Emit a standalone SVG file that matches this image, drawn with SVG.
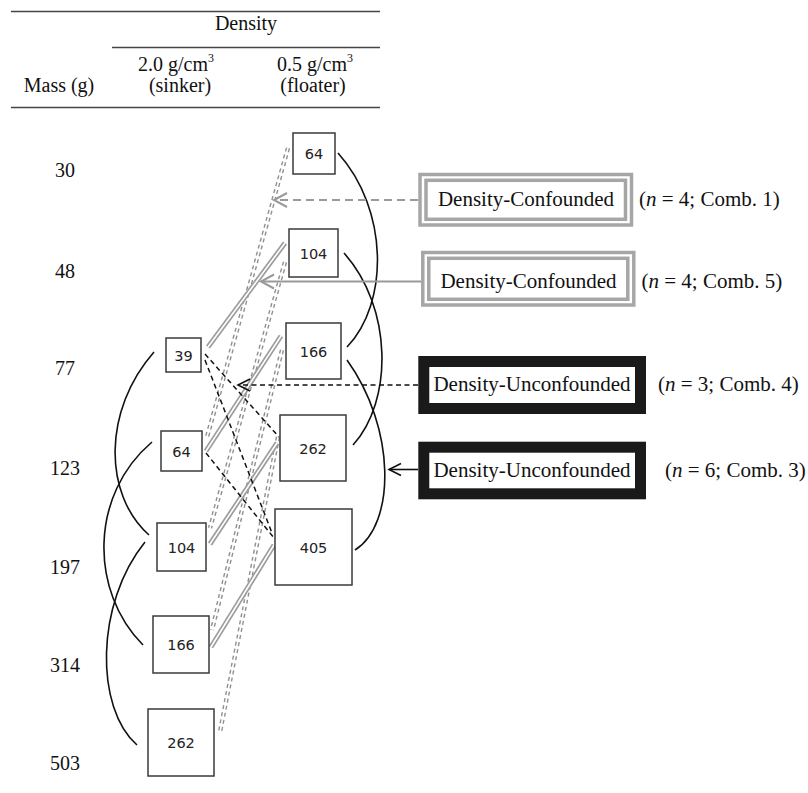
<svg xmlns="http://www.w3.org/2000/svg" width="808" height="793" viewBox="0 0 808 793">
<defs>
<style>
.box{fill:#fff;stroke:#3a3a3a;stroke-width:1.5}
.num{font-family:"DejaVu Sans",sans-serif;font-size:14.5px;text-anchor:middle;fill:#222}
.lbl{font-family:"Liberation Serif","Times New Roman",serif;font-size:20px;fill:#111}
.mid{text-anchor:middle}
.big{font-size:21px}
.rule{stroke:#444;stroke-width:1.3}
.curve{fill:none;stroke:#111;stroke-width:1.6}
.ddo{fill:none;stroke:#8f8f8f;stroke-width:4.4;stroke-dasharray:4 3.2}
.ddi{fill:none;stroke:#fff;stroke-width:1.6}
.dso{fill:none;stroke:#9c9c9c;stroke-width:5}
.dsi{fill:none;stroke:#fff;stroke-width:1.6}
.bd{fill:none;stroke:#111;stroke-width:1.5;stroke-dasharray:5 3.5}
.gdash{fill:none;stroke:#9a9a9a;stroke-width:2;stroke-dasharray:8 5}
.gsol{fill:none;stroke:#9a9a9a;stroke-width:2}
.kdash{fill:none;stroke:#111;stroke-width:1.6;stroke-dasharray:5 3.5}
.ksol{fill:none;stroke:#111;stroke-width:1.6}
.cf{fill:none;stroke:#a6a6a6;stroke-width:3.5}
.uc{fill:#fff;stroke:#1a1a1a;stroke-width:11}
</style>
<marker id="ag" markerUnits="userSpaceOnUse" markerWidth="20" markerHeight="20" refX="0" refY="0" viewBox="-14 -10 16 20" orient="auto">
<path d="M-13,-7 L0,0 L-13,7" fill="none" stroke="#9a9a9a" stroke-width="2"/>
</marker>
<marker id="ak" markerUnits="userSpaceOnUse" markerWidth="20" markerHeight="20" refX="0" refY="0" viewBox="-14 -10 16 20" orient="auto">
<path d="M-12,-6 L0,0 L-12,6" fill="none" stroke="#111" stroke-width="1.6"/>
</marker>
</defs>
<rect width="808" height="793" fill="#fff"/>

<g id="header">
<line class="rule" x1="11" y1="11.5" x2="380" y2="11.5"/>
<line class="rule" x1="112" y1="47.5" x2="380" y2="47.5"/>
<line class="rule" x1="11" y1="107.5" x2="380" y2="107.5"/>
<text class="lbl mid" x="246" y="30">Density</text>
<text class="lbl mid" x="176" y="71">2.0 g/cm<tspan font-size="12" dy="-9">3</tspan></text>
<text class="lbl mid" x="180" y="92">(sinker)</text>
<text class="lbl mid" x="315" y="71">0.5 g/cm<tspan font-size="12" dy="-9">3</tspan></text>
<text class="lbl mid" x="313" y="92">(floater)</text>
<text class="lbl mid" x="59" y="92">Mass (g)</text>
</g>

<g id="mass-labels">
<text class="lbl mid" x="65" y="177">30</text>
<text class="lbl mid" x="65" y="278">48</text>
<text class="lbl mid" x="65" y="375">77</text>
<text class="lbl mid" x="65" y="475">123</text>
<text class="lbl mid" x="65" y="574">197</text>
<text class="lbl mid" x="65" y="672">314</text>
<text class="lbl mid" x="65" y="770">503</text>
</g>

<g id="connectors">
<path class="ddo" d="M288,148 L207,437"/><path class="ddi" d="M288,148 L207,437"/>
<path class="ddo" d="M285,262 L210,528"/><path class="ddi" d="M285,262 L210,528"/>
<path class="ddo" d="M282,350 L212,630"/><path class="ddi" d="M282,350 L212,630"/>
<path class="ddo" d="M278,437 L220,732"/><path class="ddi" d="M278,437 L220,732"/>
<path class="dso" d="M285,243 L208,347"/><path class="dsi" d="M285,243 L208,347"/>
<path class="dso" d="M281,336 L206,451"/><path class="dsi" d="M281,336 L206,451"/>
<path class="dso" d="M277,443 L210,544"/><path class="dsi" d="M277,443 L210,544"/>
<path class="dso" d="M274,545 L211,647"/><path class="dsi" d="M274,545 L211,647"/>
<path class="bd" d="M205,354 L279,437"/>
<path class="bd" d="M205,360 L272,533"/>
<path class="bd" d="M206,453 L274,538"/>
<path class="curve" d="M154,352 C103,410 103,494 149,535"/>
<path class="curve" d="M152,442 C89.5,495 89.5,591 143,645"/>
<path class="curve" d="M145,542 C95,604 95,708 137,745"/>
<path class="curve" d="M338,153 C389,210 389,303 347,347"/>
<path class="curve" d="M344,253 C393,308 393,401 353,445"/>
<path class="curve" d="M347,360 C396,428 396,524 355,550"/>
<path class="gdash" d="M418,200 L274,200" marker-end="url(#ag)"/>
<path class="gsol" d="M421,281.5 L261,281.5" marker-end="url(#ag)"/>
<path class="kdash" d="M418,385 L238,385" marker-end="url(#ak)"/>
<path class="ksol" d="M418,469.5 L389,469.5" marker-end="url(#ak)"/>
</g>

<g id="floater-64"><rect class="box" x="293" y="133" width="42" height="41"/><text class="num" x="314" y="159">64</text></g>
<g id="floater-104"><rect class="box" x="289" y="229" width="49" height="48"/><text class="num" x="313.5" y="258.5">104</text></g>
<g id="floater-166"><rect class="box" x="286" y="323" width="55" height="56"/><text class="num" x="313.5" y="356.5">166</text></g>
<g id="floater-262"><rect class="box" x="280" y="415" width="66" height="66"/><text class="num" x="313" y="453.5">262</text></g>
<g id="floater-405"><rect class="box" x="275" y="509" width="77" height="76"/><text class="num" x="313.5" y="552.5">405</text></g>

<g id="sinker-39"><rect class="box" x="166" y="338" width="35" height="34"/><text class="num" x="183.5" y="360.5">39</text></g>
<g id="sinker-64"><rect class="box" x="161" y="431" width="41" height="40"/><text class="num" x="181.5" y="456.5">64</text></g>
<g id="sinker-104"><rect class="box" x="157" y="523" width="49" height="48"/><text class="num" x="181.5" y="552.5">104</text></g>
<g id="sinker-166"><rect class="box" x="153" y="616" width="56" height="57"/><text class="num" x="181" y="650">166</text></g>
<g id="sinker-262"><rect class="box" x="148" y="709" width="66" height="67"/><text class="num" x="181" y="748">262</text></g>

<g id="label-comb1">
<rect class="cf" x="420" y="174.5" width="211.5" height="50.5"/>
<rect class="cf" x="426" y="180.3" width="199.5" height="39"/>
<text class="lbl big mid" x="526" y="206">Density-Confounded</text>
<text class="lbl big" x="639" y="206">(<tspan font-style="italic">n</tspan> = 4; Comb. 1)</text>
</g>
<g id="label-comb5">
<rect class="cf" x="422.8" y="252.5" width="211" height="52.5"/>
<rect class="cf" x="428.8" y="258.3" width="199" height="41"/>
<text class="lbl big mid" x="528.5" y="288">Density-Confounded</text>
<text class="lbl big" x="641.5" y="288">(<tspan font-style="italic">n</tspan> = 4; Comb. 5)</text>
</g>
<g id="label-comb4">
<rect class="uc" x="423.8" y="361.5" width="216.7" height="47"/>
<text class="lbl big mid" x="532" y="391">Density-Unconfounded</text>
<text class="lbl big" x="658" y="391">(<tspan font-style="italic">n</tspan> = 3; Comb. 4)</text>
</g>
<g id="label-comb3">
<rect class="uc" x="423.8" y="447.2" width="216.7" height="46.6"/>
<text class="lbl big mid" x="532" y="477">Density-Unconfounded</text>
<text class="lbl big" x="665" y="477">(<tspan font-style="italic">n</tspan> = 6; Comb. 3)</text>
</g>
</svg>
